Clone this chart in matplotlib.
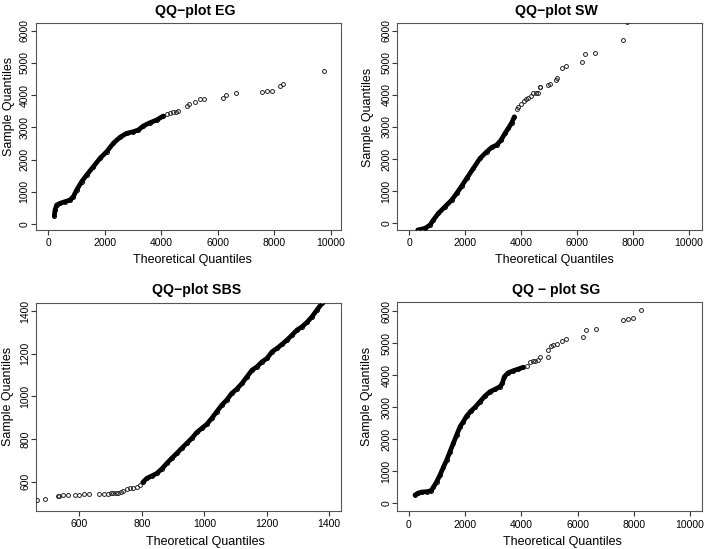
import matplotlib
matplotlib.use("Agg")
import matplotlib.pyplot as plt

plt.rcParams['font.family'] = ['Liberation Sans', 'DejaVu Sans']

# ---------------- data ----------------
# QQ-plot EG
eg_dense_x = [212, 237, 295, 413, 590, 767, 884, 1002, 1178, 1356, 1592, 1828, 2064,
              2299, 2535, 2771, 3006, 3183, 3360, 3596, 3833, 4067]
eg_dense_y = [258, 434, 590, 642, 693, 745, 848, 1055, 1313, 1521, 1778, 2039, 2244,
              2505, 2691, 2815, 2865, 2917, 3042, 3144, 3228, 3352]
eg_tail_x = [4185, 4304, 4421, 4516, 4598, 4895, 4976, 5188, 5376, 5517, 6180, 6270,
             6640, 7569, 7724, 7901, 8195, 8290, 9741]
eg_tail_y = [3405, 3436, 3467, 3486, 3507, 3671, 3715, 3796, 3889, 3889, 3920, 3994,
             4075, 4097, 4128, 4137, 4283, 4336, 4749]

# QQ-plot SW
sw_dense_x = [310, 571, 750, 869, 1048, 1286, 1524, 1702, 1881, 2060, 2298, 2536,
              2775, 2954, 3131, 3286, 3428, 3546, 3668, 3761]
sw_dense_y = [-208, -156, -53, 103, 311, 517, 725, 934, 1161, 1401, 1712, 2023,
              2229, 2366, 2437, 2593, 2802, 2957, 3132, 3319]
sw_tail_x = [3846, 3904, 4000, 4107, 4179, 4261, 4357, 4439, 4525, 4618, 4668, 4680,
             4954, 5036, 5250, 5286, 5454, 5607, 6170, 6300, 6660, 7640, 7790]
sw_tail_y = [3559, 3631, 3705, 3817, 3861, 3892, 3964, 4048, 4067, 4067, 4234, 4240,
             4306, 4337, 4462, 4515, 4826, 4894, 5031, 5285, 5311, 5707, 6260]

# QQ-plot SBS
sbs_tail_x = [463, 490, 533, 536, 549, 565, 586, 600, 615, 632, 663, 679, 693, 701,
              709, 718, 725, 733, 741, 752, 763, 773, 784, 795]
sbs_tail_y = [514, 518, 533, 535, 536, 536, 536, 538, 541, 541, 543, 543, 544, 546,
              546, 548, 549, 553, 558, 566, 569, 569, 574, 585]
sbs_dense_x = [803, 816, 832, 848, 864, 880, 896, 912, 928, 944, 960, 976, 992, 1008,
               1024, 1040, 1056, 1072, 1088, 1104, 1121, 1137, 1153, 1169, 1185, 1201,
               1217, 1233, 1249, 1265, 1281, 1297, 1313, 1329, 1345, 1361, 1377, 1390]
sbs_dense_y = [597, 616, 627, 639, 660, 686, 710, 733, 757, 780, 803, 831, 850, 869,
               897, 928, 959, 983, 1014, 1034, 1061, 1092, 1123, 1139, 1162, 1178,
               1209, 1225, 1244, 1264, 1287, 1311, 1326, 1347, 1373, 1405, 1436, 1460]

# QQ - plot SG
sg_dense_x = [214, 309, 451, 630, 783, 866, 985, 1103, 1222, 1342, 1459, 1577, 1697,
              1815, 1932, 2053, 2206, 2349, 2527, 2705, 2883, 3060, 3238, 3320, 3391,
              3534, 3712, 3890, 4068]
sg_dense_y = [259, 312, 353, 363, 394, 500, 675, 884, 1125, 1353, 1613, 1875, 2134,
              2394, 2550, 2728, 2884, 3000, 3175, 3353, 3488, 3563, 3644, 3750, 3956,
              4081, 4144, 4197, 4250]
sg_tail_x = [4189, 4306, 4402, 4484, 4580, 4662, 4957, 4957, 5043, 5135, 5256, 5434,
             5577, 6203, 6288, 6655, 7626, 7783, 7961, 8256]
sg_tail_y = [4291, 4425, 4456, 4456, 4478, 4581, 4581, 4791, 4916, 4947, 4978, 5072,
             5144, 5188, 5416, 5447, 5728, 5769, 5781, 6041]

titles = ["QQ\u2212plot EG", "QQ\u2212plot SW", "QQ\u2212plot SBS", "QQ \u2212 plot SG"]
xlabel = "Theoretical Quantiles"
ylabel = "Sample Quantiles"
big_xticks = [0, 2000, 4000, 6000, 8000, 10000]
big_yticks = [0, 1000, 2000, 3000, 4000, 5000, 6000]
sbs_ticks = [600, 800, 1000, 1200, 1400]

# ---------------- layout ----------------
W, H = 709, 549
fig = plt.figure(figsize=(W / 100, H / 100), dpi=100)

def px_axes(l, t, r, b):
    return fig.add_axes([l / W, 1 - b / H, (r - l) / W, (b - t) / H])

panels = [
    dict(box=(35.5, 23.3, 340.7, 229.5), xlim=(-453, 10343), ylim=(-170, 6228),
         dense=(eg_dense_x, eg_dense_y), tail=(eg_tail_x, eg_tail_y),
         xt=big_xticks, yt=big_yticks, title_xy=(195, 15), xl_xy=(192.7, 260), yl_xy=(9, 106)),
    dict(box=(397.3, 23.3, 702.3, 230.0), xlim=(-418, 10475), ylim=(-208, 6229),
         dense=(sw_dense_x, sw_dense_y), tail=(sw_tail_x, sw_tail_y),
         xt=big_xticks, yt=big_yticks, title_xy=(556, 15), xl_xy=(554, 260), yl_xy=(368, 117)),
    dict(box=(36.0, 303.3, 340.7, 510.7), xlim=(461, 1437), ylim=(464, 1436),
         dense=(sbs_dense_x, sbs_dense_y), tail=(sbs_tail_x, sbs_tail_y),
         xt=sbs_ticks, yt=sbs_ticks, title_xy=(197, 294), xl_xy=(205, 542), yl_xy=(8.3, 396)),
    dict(box=(397.3, 302.3, 702.3, 511.3), xlim=(-416, 10438), ylim=(-250, 6281),
         dense=(sg_dense_x, sg_dense_y), tail=(sg_tail_x, sg_tail_y),
         xt=big_xticks, yt=big_yticks, title_xy=(555.7, 294), xl_xy=(562, 542), yl_xy=(366.7, 396)),
]

for p, title in zip(panels, titles):
    l, t, r, b = p['box']
    ax = px_axes(l, t, r, b)
    dx, dy = p['dense']
    tx, ty = p['tail']
    ax.plot(dx, dy, '-', color='black', lw=3.4, solid_capstyle='round',
            solid_joinstyle='round', zorder=2)
    ax.plot(dx, dy, 'o', mfc='none', mec='black', ms=2.8, mew=0.7, zorder=3)
    ax.plot(tx, ty, 'o', mfc='none', mec='#222222', ms=2.8, mew=0.7, zorder=3)
    ax.set_xlim(*p['xlim'])
    ax.set_ylim(*p['ylim'])
    ax.set_xticks(p['xt'])
    ax.set_yticks(p['yt'])
    ax.set_xticklabels([str(v) for v in p['xt']], fontsize=7.5)
    ax.set_yticklabels([str(v) for v in p['yt']], fontsize=7.5, rotation=90,
                       va='center', ha='right')
    ax.tick_params(axis='both', length=3.6, width=0.8, color='#333333')
    ax.tick_params(axis='x', pad=2.4)
    ax.tick_params(axis='y', pad=0.6)
    for s in ax.spines.values():
        s.set_color('#555555')
        s.set_linewidth(0.8)
    # titles and axis labels placed at their reference pixel positions
    axw, axh = r - l, b - t
    ax.set_title(title, fontsize=10.2, fontweight='bold', va='baseline', pad=0,
                 x=(p['title_xy'][0] - l) / axw, y=(b - p['title_xy'][1]) / axh)
    ax.set_xlabel(xlabel, fontsize=9, va='center', ha='center')
    ax.xaxis.set_label_coords((p['xl_xy'][0] - l) / axw, (b - p['xl_xy'][1]) / axh)
    ax.set_ylabel(ylabel, fontsize=9, va='center', ha='center')
    ax.yaxis.set_label_coords((p['yl_xy'][0] - l) / axw, (b - p['yl_xy'][1]) / axh)

fig.savefig("out.png", dpi=100)
